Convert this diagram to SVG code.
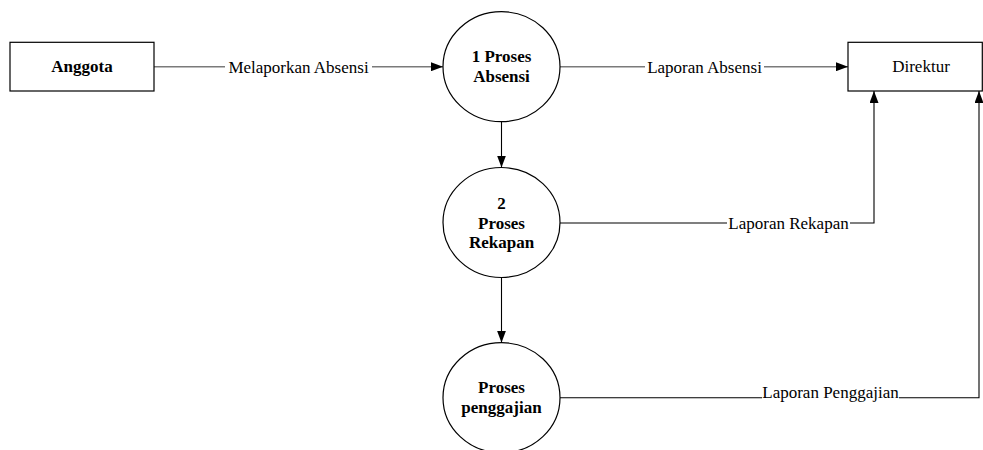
<svg xmlns="http://www.w3.org/2000/svg" width="983" height="450" viewBox="0 0 983 450">
<style>
.box{fill:#fff;stroke:#000;stroke-width:1.2}
.proc{fill:#fff;stroke:#000;stroke-width:1.2}
text{font-family:'Liberation Serif','Times New Roman','DejaVu Serif',serif;font-size:17px;fill:#000;text-anchor:middle}
.b{font-weight:bold}
.gray{fill:none;stroke:#7a7a7a;stroke-width:1.5}
.blk{fill:none;stroke:#000;stroke-width:1.1}
</style>
<defs>
<marker id="arr" markerUnits="userSpaceOnUse" markerWidth="12" markerHeight="9" refX="12" refY="4.5" orient="auto">
<path d="M0,0 L12,4.5 L0,9 Z" fill="#000"/>
</marker>
</defs>
<rect width="983" height="450" fill="#fff"/>
<g id="connectors">
<path class="gray" d="M154,66.7 H225 M372,66.7 H443" marker-end="url(#arr)"/>
<text x="298.5" y="72.5">Melaporkan Absensi</text>
<path class="gray" d="M560,66.7 H645 M764,66.7 H848" marker-end="url(#arr)"/>
<text x="704.5" y="72.5">Laporan Absensi</text>
<path class="blk" d="M501.5,121.7 V167.5" marker-end="url(#arr)"/>
<path class="blk" d="M501.5,277.5 V342.7" marker-end="url(#arr)"/>
<path class="blk" d="M560,223 H727 M850,223 H874 V91" marker-end="url(#arr)"/>
<text x="788.5" y="228.5">Laporan Rekapan</text>
<path class="blk" d="M560,397.7 H762 M899,397.7 H979 V91" marker-end="url(#arr)"/>
<text x="830.5" y="397.5">Laporan Penggajian</text>
</g>
<g id="anggota">
<rect class="box" x="10" y="42.3" width="144" height="48.7"/>
<text class="b" x="82" y="72">Anggota</text>
</g>
<g id="direktur">
<rect class="box" x="848" y="42.3" width="134.3" height="48.7"/>
<text x="921" y="72">Direktur</text>
</g>
<g id="proses-absensi">
<ellipse class="proc" cx="501.5" cy="66.7" rx="58.5" ry="55"/>
<text class="b" x="501.5" y="62.3">1 Proses</text>
<text class="b" x="501.5" y="81.7">Absensi</text>
</g>
<g id="proses-rekapan">
<ellipse class="proc" cx="501.5" cy="222.5" rx="58.5" ry="55"/>
<text class="b" x="501.5" y="209.3">2</text>
<text class="b" x="501.5" y="228.7">Proses</text>
<text class="b" x="501.5" y="248">Rekapan</text>
</g>
<g id="proses-penggajian">
<ellipse class="proc" cx="501.5" cy="397.7" rx="58.5" ry="55"/>
<text class="b" x="501.5" y="393">Proses</text>
<text class="b" x="501.5" y="412.5">penggajian</text>
</g>
</svg>
